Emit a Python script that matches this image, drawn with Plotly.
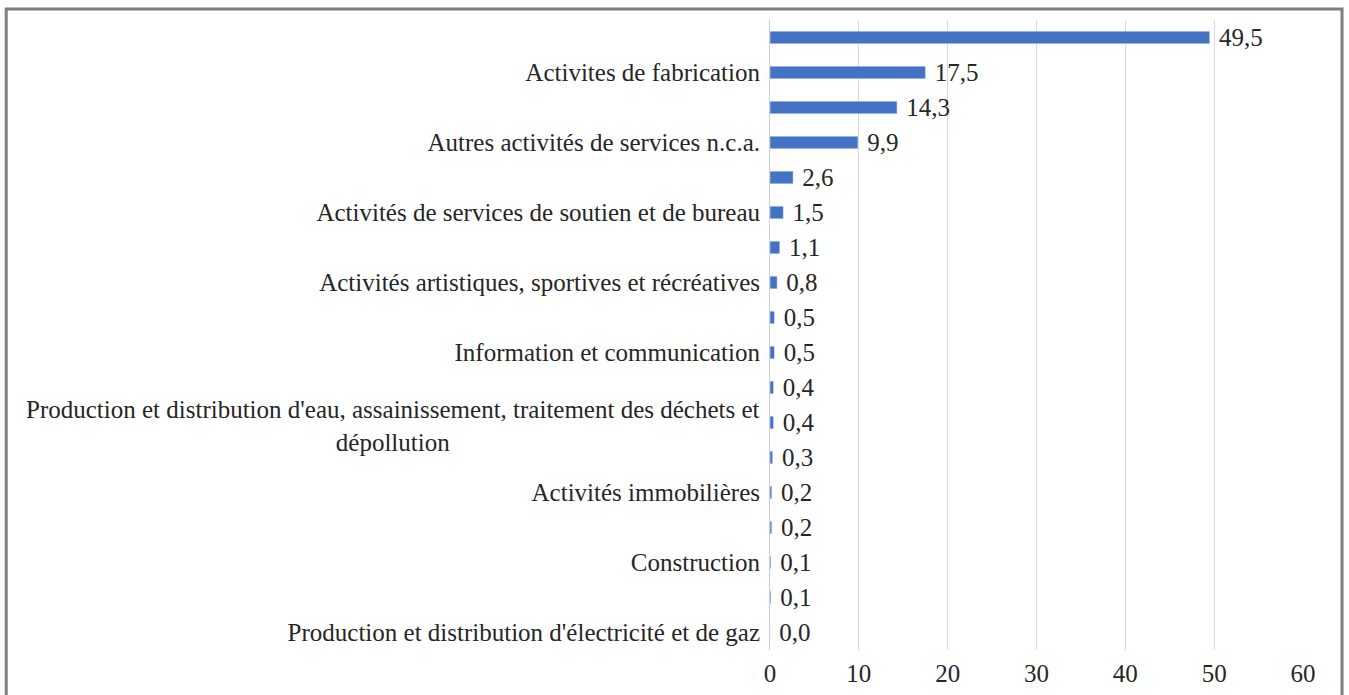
import plotly.graph_objects as go

# secteurs, du haut vers le bas ; "" = libellé non affiché dans l'original
sectors = [
    "",
    "Activites de fabrication",
    "",
    "Autres activités de services n.c.a.",
    "",
    "Activités de services de soutien et de bureau",
    "",
    "Activités artistiques, sportives et récréatives",
    "",
    "Information et communication",
    "",
    "Production et distribution d'eau, assainissement, traitement des déchets et<br>dépollution",
    "",
    "Activités immobilières",
    "",
    "Construction",
    "",
    "Production et distribution d'électricité et de gaz",
]
values = [49.5, 17.5, 14.3, 9.9, 2.6, 1.5, 1.1, 0.8, 0.5, 0.5,
          0.4, 0.4, 0.3, 0.2, 0.2, 0.1, 0.1, 0.0]
x_ticks = [0, 10, 20, 30, 40, 50, 60]

FONT = "Liberation Serif"
FS = 25
pos = list(range(len(values)))
labels = ["\u00a0" + f"{v:.1f}".replace(".", ",") for v in values]

fig = go.Figure(go.Bar(
    x=values,
    y=pos,
    orientation="h",
    width=0.36,
    marker_color="#4472c4",
    text=labels,
    textposition="outside",
    constraintext="none",
    cliponaxis=False,
    textfont=dict(family=FONT, size=FS, color="#262626"),
))

# libellés sur une ligne en tick labels, celui sur deux lignes en annotation centrée
ticktext = [s if "<br>" not in s else "" for s in sectors]
for i, s in enumerate(sectors):
    if "<br>" in s:
        fig.add_annotation(x=0, xref="paper", y=i, yref="y", text=s,
                           showarrow=False, xanchor="right", xshift=-8,
                           yshift=-3, align="center",
                           font=dict(family=FONT, size=FS, color="#262626"))

fig.update_yaxes(
    tickmode="array", tickvals=pos, ticktext=ticktext,
    range=[len(values) - 0.5, -0.5], automargin=False,
    showgrid=False, showline=True, linecolor="#c8cfdc", linewidth=1,
    ticks="", ticklabelstandoff=4,
    tickfont=dict(family=FONT, size=FS, color="#262626"),
)
fig.update_xaxes(
    tickmode="array", tickvals=x_ticks, range=[0, 60], automargin=False,
    showgrid=True, gridcolor="#d9d9d9", gridwidth=1,
    zeroline=False, showline=False, ticks="", ticklabelstandoff=6,
    tickfont=dict(family=FONT, size=FS, color="#262626"),
)

# cadre gris autour du graphique
fig.add_shape(type="rect", xref="paper", yref="paper",
              x0=-1.433, x1=1.0732, y0=-0.1, y1=1.0175,
              line=dict(color="#7f7f7f", width=3))

fig.update_layout(
    width=1349, height=695,
    margin=dict(l=770, r=46, t=20, b=45),
    plot_bgcolor="white", paper_bgcolor="white",
    showlegend=False,
)

fig.write_html("out.html", config={"displayModeBar": False},
               post_script="document.body.style.margin='0';")
